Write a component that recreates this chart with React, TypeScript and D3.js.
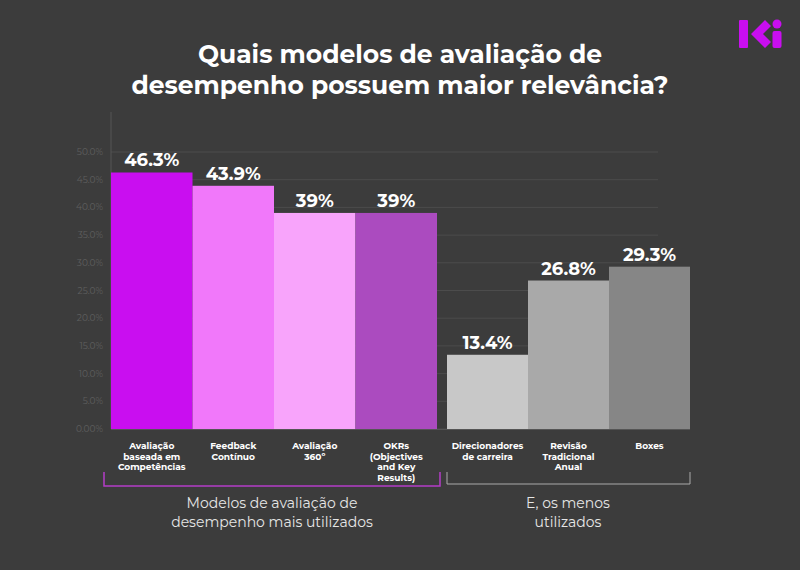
import * as d3 from "d3";

const topLabels = ["Avaliação\nbaseada em\nCompetências", "Feedback\nContínuo", "Avaliação\n360º", "OKRs\n(Objectives\nand Key\nResults)"];
const topValues = [46.3, 43.9, 39, 39];
const topLabelsValue = ["46.3%", "43.9%", "39%", "39%"];
const topColors = ["#c90ef0", "#f178fa", "#f8a4fb", "#ab4bbf"];

const lowLabels = ["Direcionadores\nde carreira", "Revisão\nTradicional\nAnual", "Boxes"];
const lowValues = [13.4, 26.8, 29.3];
const lowLabelsValue = ["13.4%", "26.8%", "29.3%"];
const lowColors = ["#c8c8c8", "#a9a9a9", "#868686"];

const yTicks = [0, 5, 10, 15, 20, 25, 30, 35, 40, 45, 50];

const W = 800, H = 570;
const FONT = "Montserrat, 'Open Sans', 'DejaVu Sans', sans-serif";

export default function App() {
  const y = d3.scaleLinear().domain([0, 50]).range([429, 152]);
  const xTop = d3.scaleBand<number>().domain(d3.range(4)).range([111, 437]).padding(0);
  const xLow = d3.scaleBand<number>().domain(d3.range(3)).range([447, 690]).padding(0);

  const group = (
    x: d3.ScaleBand<number>,
    vals: number[],
    labs: string[],
    vlabs: string[],
    cols: string[],
    key: string
  ) =>
    vals.map((v, i) => {
      const x0 = x(i)!;
      const bw = x.bandwidth();
      return (
        <g key={key + i}>
          <rect x={x0} y={y(v)} width={bw} height={y(0) - y(v)} fill={cols[i]} />
          <text x={x0 + bw / 2} y={y(v) - 6} textAnchor="middle" fill="#fff" fontSize={18} fontWeight={700} fontFamily={FONT}>
            {vlabs[i]}
          </text>
          <text textAnchor="middle" fill="#fff" fontSize={9} fontWeight={700} fontFamily={FONT}>
            {labs[i].split("\n").map((l, j) => (
              <tspan key={j} x={x0 + bw / 2} y={449 + j * 10.5}>{l}</tspan>
            ))}
          </text>
        </g>
      );
    });

  return (
    <svg width={W} height={H} style={{ display: "block", position: "absolute", left: 0, top: 0 }}>
      <rect width={W} height={H} fill="#3c3c3c" />
      <text textAnchor="middle" fill="#fff" fontSize={25} fontWeight={700} fontFamily={FONT}>
        <tspan x={400} y={63}>Quais modelos de avaliação de</tspan>
        <tspan x={400} y={94}>desempenho possuem maior relevância?</tspan>
      </text>
      {/* logo */}
      <g fill="#c90ef0">
        <rect x={739} y={20} width={9} height={28} rx={1} />
        <path d="M765,20 L751,34 L765,48 L771,42 L763,34 L771,26 Z" />
        <circle cx={777} cy={24} r={4.5} />
        <rect x={772.5} y={31} width={9} height={17} rx={2} />
      </g>
      {yTicks.map((t) => (
        <g key={t}>
          <line x1={111} x2={658} y1={y(t)} y2={y(t)} stroke="#4c4c4c" strokeWidth={1} />
          <text x={103} y={y(t) + 3} textAnchor="end" fill="#5f5f5f" fontSize={9} fontFamily={FONT}>
            {t === 0 ? "0.00%" : t.toFixed(1) + "%"}
          </text>
        </g>
      ))}
      <line x1={111} x2={111} y1={112} y2={429} stroke="#555" />
      {group(xTop, topValues, topLabels, topLabelsValue, topColors, "t")}
      {group(xLow, lowValues, lowLabels, lowLabelsValue, lowColors, "l")}
      <line x1={111} x2={690} y1={429.5} y2={429.5} stroke="#555" />
      <path d="M104,472 V486 H440 V472" fill="none" stroke="#b43cc8" strokeWidth={1.5} />
      <path d="M447,472 V484 H690 V472" fill="none" stroke="#aaa" strokeWidth={1} />
      <text textAnchor="middle" fill="#e6e6e6" fontSize={14} fontFamily={FONT}>
        <tspan x={272} y={508}>Modelos de avaliação de</tspan>
        <tspan x={272} y={527}>desempenho mais utilizados</tspan>
        <tspan x={568} y={508}>E, os menos</tspan>
        <tspan x={568} y={527}>utilizados</tspan>
      </text>
    </svg>
  );
}
